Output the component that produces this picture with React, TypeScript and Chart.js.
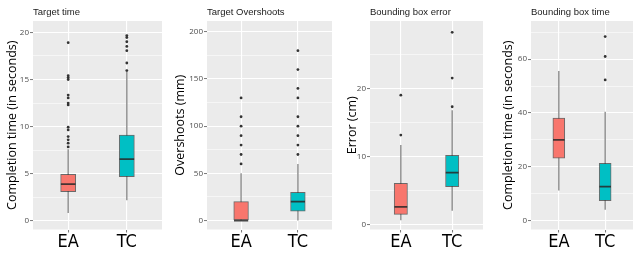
import React, { useEffect, useRef } from 'react';
import { Chart, registerables } from 'chart.js';

Chart.register(...registerables);

const categories = ['EA', 'TC'];
const fillColors = ['#F8766D', '#00BFC4'];

// Panel 1: Target time
const ttTitle = 'Target time';
const ttYLabel = 'Completion time (in seconds)';
const ttLow = [0.85, 2.2];
const ttQ1 = [3.1, 4.7];
const ttMedian = [3.9, 6.55];
const ttQ3 = [4.95, 9.1];
const ttHigh = [7.6, 15.8];
const ttOutliersEA = [18.9, 15.4, 15.2, 15.0, 13.35, 13.05, 12.5, 12.3, 9.95, 9.65, 8.95, 8.6, 8.25, 7.85];
const ttOutliersTC = [15.95, 16.75, 18.05, 18.5, 19.0, 19.45, 19.65];
const ttMajor = [0, 5, 10, 15, 20];
const ttMinor = [2.5, 7.5, 12.5, 17.5];

// Panel 2: Target Overshoots
const toTitle = 'Target Overshoots';
const toYLabel = 'Overshoots (mm)';
const toLow = [0, 0];
const toQ1 = [0, 10];
const toMedian = [0, 20];
const toQ3 = [20, 30];
const toHigh = [50, 60];
const toOutliersEA = [60, 70, 80, 90, 100, 110, 130];
const toOutliersTC = [70, 80, 90, 100, 110, 130, 140, 160, 180];
const toMajor = [0, 50, 100, 150, 200];
const toMinor = [25, 75, 125, 175];

// Panel 3: Bounding box error
const beTitle = 'Bounding box error';
const beYLabel = 'Error (cm)';
const beLow = [0.7, 2.1];
const beQ1 = [1.55, 5.6];
const beMedian = [2.65, 7.65];
const beQ3 = [6.1, 10.2];
const beHigh = [11.7, 16.8];
const beOutliersEA = [13.15, 19.0];
const beOutliersTC = [17.3, 21.5, 28.2];
const beMajor = [0, 10, 20];
const beMinor = [5, 15, 25];

// Panel 4: Bounding box time
const btTitle = 'Bounding box time';
const btYLabel = 'Completion time (in seconds)';
const btLow = [11.2, 4.0];
const btQ1 = [23.2, 7.4];
const btMedian = [30.0, 12.6];
const btQ3 = [38.1, 21.3];
const btHigh = [55.6, 40.5];
const btOutliersEA: number[] = [];
const btOutliersTC = [52.3, 61.0, 68.4];
const btMajor = [0, 20, 40, 60];
const btMinor = [10, 30, 50, 70];

const SANS = '"Open Sans", "Noto Sans", sans-serif';
const NARROW = '"Liberation Sans Narrow", "DejaVu Sans Condensed", "Open Sans", sans-serif';

const panels = [
  { title: ttTitle, yLabel: ttYLabel, low: ttLow, q1: ttQ1, median: ttMedian, q3: ttQ3, high: ttHigh,
    outliers: [ttOutliersEA, ttOutliersTC], major: ttMajor, minor: ttMinor, yMin: -0.9, yMax: 21.2,
    left: 0, width: 166, axisWidth: 33, padRight: 0, barPx: 15.1, titlePad: 5 },
  { title: toTitle, yLabel: toYLabel, low: toLow, q1: toQ1, median: toMedian, q3: toQ3, high: toHigh,
    outliers: [toOutliersEA, toOutliersTC], major: toMajor, minor: toMinor, yMin: -9.5, yMax: 211.5,
    left: 166, width: 170, axisWidth: 41, padRight: 0, barPx: 14.7, titlePad: 6.7 },
  { title: beTitle, yLabel: beYLabel, low: beLow, q1: beQ1, median: beMedian, q3: beQ3, high: beHigh,
    outliers: [beOutliersEA, beOutliersTC], major: beMajor, minor: beMinor, yMin: -0.66, yMax: 29.85,
    left: 336, width: 151, axisWidth: 34, padRight: 0, barPx: 13.3, titlePad: 8.7 },
  { title: btTitle, yLabel: btYLabel, low: btLow, q1: btQ1, median: btMedian, q3: btQ3, high: btHigh,
    outliers: [btOutliersEA, btOutliersTC], major: btMajor, minor: btMinor, yMin: -3.3, yMax: 74.2,
    left: 487, width: 150, axisWidth: 44, padRight: 1, barPx: 11.9, titlePad: 13.7 },
];

const panelBackground = {
  id: 'panelBackground',
  beforeDraw(chart: any) {
    const { ctx, chartArea } = chart;
    ctx.save();
    ctx.fillStyle = '#EBEBEB';
    ctx.fillRect(chartArea.left, chartArea.top, chartArea.right - chartArea.left, chartArea.bottom - chartArea.top);
    ctx.restore();
  },
};

function buildConfig(p: any): any {
  const half = 0.125;
  const boxData = categories.map((_, i) => ({ x: i + 1, y: [p.q1[i], p.q3[i]] }));
  const medianData: any[] = [];
  const whiskerData: any[] = [];
  categories.forEach((_, i) => {
    if (i > 0) {
      medianData.push({ x: i + 0.5, y: null });
      whiskerData.push({ x: i + 0.5, y: null });
    }
    medianData.push({ x: i + 1 - half, y: p.median[i] }, { x: i + 1 + half, y: p.median[i] });
    whiskerData.push({ x: i + 1, y: p.low[i] }, { x: i + 1, y: p.high[i] });
  });
  const outlierData = p.outliers.flatMap((arr: number[], i: number) => arr.map((v) => ({ x: i + 1, y: v })));
  const majorSet = new Set<number>(p.major);
  const yTicks = [...p.major, ...p.minor].sort((a, b) => a - b);

  return {
    type: 'bar',
    data: {
      datasets: [
        { type: 'scatter', data: outlierData, pointRadius: 1.4, pointBackgroundColor: '#333333', pointBorderWidth: 0, order: 0 },
        { type: 'line', data: medianData, borderColor: 'rgba(40,40,40,0.85)', borderWidth: 1.8, pointRadius: 0, spanGaps: false, order: 1 },
        { type: 'bar', data: boxData, backgroundColor: fillColors, borderColor: 'rgba(51,51,51,0.7)', borderWidth: 1,
          borderSkipped: false, barThickness: p.barPx, order: 2 },
        { type: 'line', data: whiskerData, borderColor: '#8c8c8c', borderWidth: 1.4, pointRadius: 0, spanGaps: false, order: 3 },
      ],
    },
    options: {
      animation: false,
      responsive: false,
      devicePixelRatio: 1,
      layout: { padding: { top: 0, right: p.padRight, left: 0, bottom: 0 } },
      plugins: {
        legend: { display: false },
        tooltip: { enabled: false },
        title: {
          display: true, text: p.title, align: 'start', fullSize: false, color: '#1a1a1a',
          font: { family: '"Liberation Sans", Arial, sans-serif', size: 9.5, weight: 'normal', lineHeight: 1.2 },
          padding: { top: 7, bottom: 2.6 },
        },
      },
      scales: {
        x: {
          type: 'linear', min: 0.4, max: 2.6, offset: false,
          afterBuildTicks: (s: any) => { s.ticks = categories.map((_, i) => ({ value: i + 1 })); },
          afterFit: (s: any) => { s.height = 23.5; },
          ticks: {
            callback: (v: any) => categories[Math.round(v) - 1] ?? '',
            font: { family: NARROW, size: 18 }, color: '#000', padding: -1, autoSkip: false, maxRotation: 0,
          },
          grid: { offset: false, color: '#ffffff', lineWidth: 1.1, tickLength: 3, tickColor: '#555', tickWidth: 0.8 },
          border: { display: false },
        },
        y: {
          type: 'linear', min: p.yMin, max: p.yMax,
          afterBuildTicks: (s: any) => { s.ticks = yTicks.map((v) => ({ value: v })); },
          afterFit: (s: any) => { s.width = p.axisWidth; },
          ticks: {
            callback: (v: any) => (majorSet.has(v) ? String(v) : ''),
            font: { family: SANS, size: 8 }, color: '#4D4D4D', padding: 1, autoSkip: false,
          },
          grid: {
            color: '#ffffff',
            lineWidth: (c: any) => (c.tick && majorSet.has(c.tick.value) ? 1.1 : 0.55),
            tickLength: 3,
            tickColor: (c: any) => (c.tick && majorSet.has(c.tick.value) ? '#555' : 'rgba(0,0,0,0)'),
            tickWidth: 0.8,
          },
          border: { display: false },
          title: {
            display: true, text: p.yLabel, color: '#000',
            font: { family: SANS, size: 12.5, lineHeight: 1.2 },
            padding: { top: p.titlePad, bottom: 0 },
          },
        },
      },
    },
    plugins: [panelBackground],
  };
}

function Panel({ p }: { p: any }) {
  const ref = useRef<HTMLCanvasElement | null>(null);
  useEffect(() => {
    if (!ref.current) return;
    const chart = new Chart(ref.current, buildConfig(p));
    return () => chart.destroy();
  }, [p]);
  return (
    <div style={{ position: 'absolute', left: p.left, top: 0, width: p.width, height: 253 }}>
      <canvas ref={ref} width={p.width} height={253} style={{ width: p.width, height: 253, display: 'block' }} />
    </div>
  );
}

export default function App() {
  return (
    <div style={{ position: 'absolute', left: 0, top: 0, width: 637, height: 253, background: '#fff', overflow: 'hidden' }}>
      {panels.map((p, i) => (
        <Panel key={i} p={p} />
      ))}
    </div>
  );
}
